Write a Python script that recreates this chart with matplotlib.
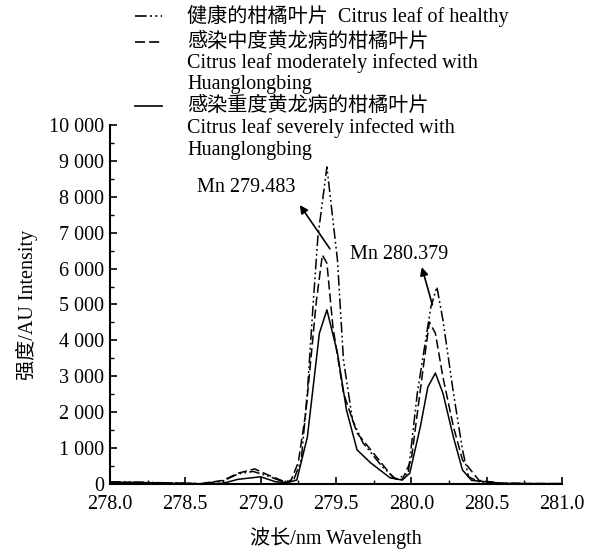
import matplotlib.pyplot as plt
from matplotlib.lines import Line2D
from matplotlib.ticker import FuncFormatter, MultipleLocator

plt.rcParams['font.family'] = ['Liberation Serif', 'Noto Sans CJK SC']

# healthy leaf (dash-dot-dot)
wl_h = [278.0, 278.2, 278.4, 278.6, 278.75, 278.85, 278.95, 279.05, 279.15, 279.22, 279.27,
        279.31, 279.35, 279.38, 279.44, 279.51, 279.55, 279.61, 279.68, 279.81, 279.9,
        279.98, 280.04, 280.13, 280.17, 280.21, 280.28, 280.34, 280.38, 280.45, 280.6,
        280.8, 281.0]
int_h = [60, 50, 30, 10, 80, 280, 350, 220, 60, 120, 670,
         2530, 5100, 6880, 8830, 6240, 3450, 1780, 1140, 470, 130,
         300, 2530, 4930, 5490, 4570, 2530, 950, 200, 60, 20,
         10, 10]

# moderately infected (dashed)
wl_m = [278.0, 278.2, 278.4, 278.6, 278.75, 278.85, 278.96, 279.05, 279.15, 279.2, 279.25,
        279.3, 279.37, 279.41, 279.44, 279.48, 279.55, 279.64, 279.77, 279.88, 279.94,
        280.0, 280.08, 280.12, 280.16, 280.21, 280.28, 280.34, 280.45, 280.6, 280.8, 281.0]
int_m = [50, 40, 30, 10, 100, 300, 420, 250, 80, 80, 600,
         2000, 5100, 6380, 6150, 4370, 2530, 1420, 750, 170, 120,
         670, 3260, 4510, 4200, 2980, 1590, 670, 100, 20, 10, 10]

# severely infected (solid)
wl_s = [278.0, 278.2, 278.4, 278.6, 278.75, 278.85, 279.0, 279.1, 279.18, 279.24,
        279.31, 279.39, 279.44, 279.51, 279.57, 279.64, 279.73, 279.86, 279.94,
        279.99, 280.06, 280.11, 280.16, 280.21, 280.28, 280.34, 280.4, 280.6, 280.8, 281.0]
int_s = [50, 40, 20, 0, 20, 130, 200, 60, 40, 110,
         1300, 4200, 4850, 3650, 2060, 950, 590, 170, 110,
         300, 1590, 2700, 3090, 2530, 1300, 390, 100, 20, 10, 10]

yticks = [0, 1000, 2000, 3000, 4000, 5000, 6000, 7000, 8000, 9000, 10000]

FS = 14.5
fig = plt.figure(figsize=(5.99, 5.52), dpi=100)
ax = fig.add_axes([0.1836, 0.1232, 0.7545, 0.6504])

dashdotdot = (0, (7, 2, 1.2, 2, 1.2, 2))
dashed = (0, (6, 2.5))
ax.plot(wl_h, int_h, color='black', lw=1.1, linestyle=dashdotdot)
ax.plot(wl_m, int_m, color='black', lw=1.1, linestyle=dashed)
ax.plot(wl_s, int_s, color='black', lw=1.1, linestyle='-')

ax.set_xlim(278.0, 281.0)
ax.set_ylim(0, 10000)
ax.set_yticks(yticks)
ax.yaxis.set_minor_locator(MultipleLocator(500))
ax.xaxis.set_major_locator(MultipleLocator(0.5))
ax.xaxis.set_minor_locator(MultipleLocator(0.25))
ax.xaxis.set_major_formatter(FuncFormatter(lambda v, p: f"{v:.1f}"))
ax.yaxis.set_major_formatter(FuncFormatter(lambda v, p: f"{int(v):,}".replace(",", " ")))

ax.spines['top'].set_visible(False)
ax.spines['right'].set_visible(False)
ax.spines['left'].set_linewidth(1.5)
ax.spines['bottom'].set_linewidth(1.5)
ax.tick_params(which='major', direction='in', length=5, width=1.2, labelsize=FS)
ax.tick_params(axis='x', pad=8)
ax.tick_params(axis='y', pad=4)
ax.tick_params(which='minor', direction='in', length=3, width=1.0)

ax.set_xlabel("波长/nm Wavelength", fontsize=FS, labelpad=9)
ax.set_ylabel("强度/AU Intensity", fontsize=FS, labelpad=8)

# peak annotations
arrow = dict(arrowstyle='-|>', color='black', lw=1.2, mutation_scale=12, shrinkA=0, shrinkB=0)
ax.annotate("", xy=(279.26, 7770), xytext=(279.46, 6550), arrowprops=arrow)
ax.text(278.58, 8250, "Mn 279.483", fontsize=FS, va='center', ha='left')
ax.annotate("", xy=(280.07, 6040), xytext=(280.14, 4990), arrowprops=arrow)
ax.text(279.59, 6380, "Mn 280.379", fontsize=FS, va='center', ha='left')

# legend drawn by hand at the top
W, H = 599, 552
rows = [(16, dashdotdot, "健康的柑橘叶片  Citrus leaf of healthy"),
        (42, dashed, "感染中度黄龙病的柑橘叶片"),
        (106, '-', "感染重度黄龙病的柑橘叶片")]
for py, ls, label in rows:
    fig.add_artist(Line2D([135 / W, 162 / W], [1 - py / H, 1 - py / H], color='black',
                          lw=1.2, linestyle=ls))
    fig.text(187 / W, 1 - py / H, label, fontsize=FS, va='center', ha='left')
for py, label in [(63, "Citrus leaf moderately infected with"), (84, "Huanglongbing"),
                  (128, "Citrus leaf severely infected with"), (150, "Huanglongbing")]:
    fig.text(187 / W, 1 - py / H, label, fontsize=FS, va='center', ha='left')

fig.savefig("out.png", dpi=100)
